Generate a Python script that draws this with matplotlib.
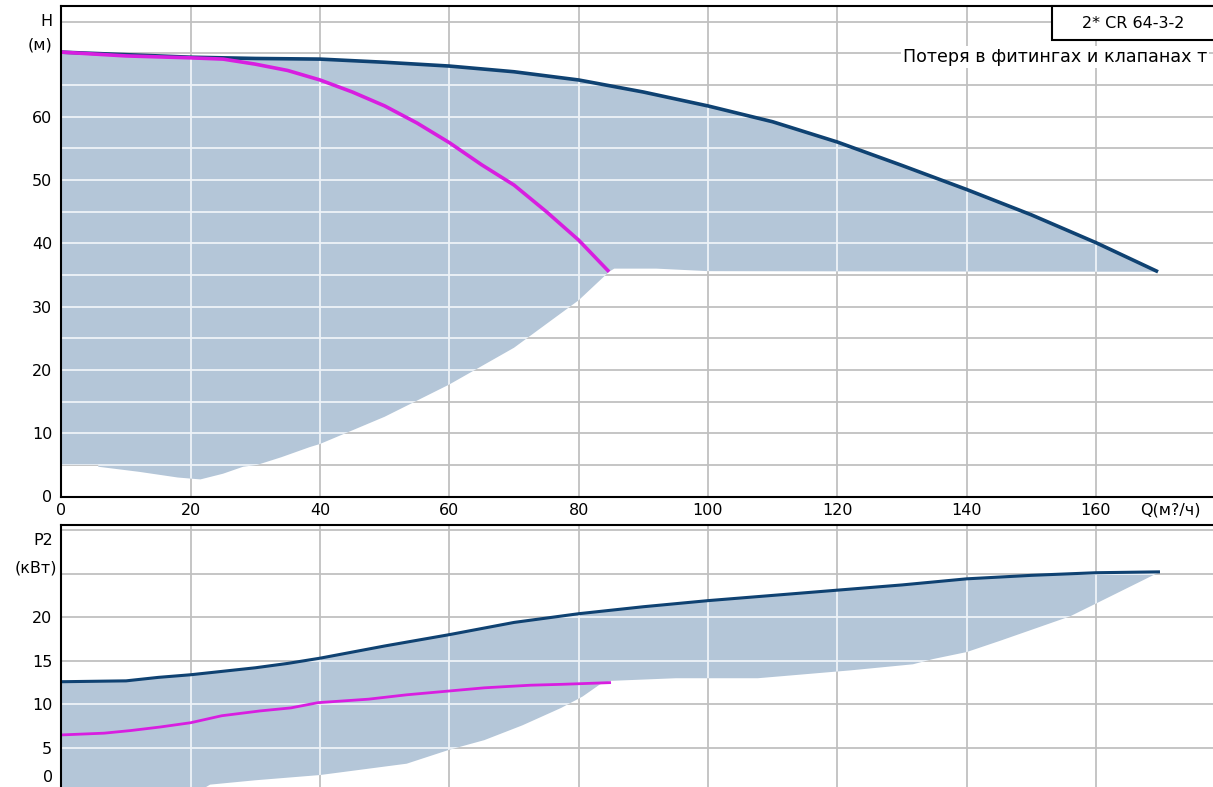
import matplotlib
matplotlib.use("Agg")
import matplotlib.pyplot as plt
from matplotlib.collections import LineCollection
from matplotlib.patches import Rectangle
import matplotlib.transforms as mtransforms

plt.rcParams['font.family'] = ['DejaVu Sans']

# ---------------- data ----------------
# Head curve, two pumps (dark blue)
q_h_two = [0, 10, 20, 30, 40, 50, 60, 70, 80, 90, 100, 110, 120, 130, 140, 150, 160, 169.6]
h_two = [70.2, 69.8, 69.4, 69.2, 69.1, 68.6, 68.0, 67.1, 65.8, 63.9, 61.7, 59.2, 56.0, 52.3, 48.5, 44.5, 40.1, 35.5]
# Head curve, one pump (magenta)
q_h_one = [0, 10, 20, 25, 30, 35, 40, 45, 50, 55, 60, 65, 70, 75, 80, 84.7]
h_one = [70.2, 69.6, 69.3, 69.1, 68.3, 67.3, 65.8, 63.9, 61.7, 59.0, 55.9, 52.4, 49.2, 45.0, 40.5, 35.5]
# Lower limit of the operating area (head)
q_h_low = [0, 5.7, 5.7, 12, 18, 21.5, 25, 28.1, 30.3, 34, 38.4, 40, 50, 60, 70, 80, 84.7, 85.5, 92, 100, 169.6]
h_low = [5.0, 5.0, 4.7, 3.9, 3.0, 2.7, 3.6, 4.7, 5.0, 6.2, 7.8, 8.3, 12.6, 17.7, 23.5, 31.0, 35.5, 36.0, 36.0, 35.6, 35.5]

# Power curve, two pumps (dark blue)
q_p_two = [0, 10, 15, 20, 25, 30, 35, 40, 50, 60, 70, 80, 90, 100, 110, 120, 130, 140, 150, 160, 169.9]
p_two = [12.6, 12.7, 13.1, 13.4, 13.8, 14.2, 14.7, 15.3, 16.7, 18.0, 19.4, 20.4, 21.2, 21.9, 22.5, 23.1, 23.7, 24.4, 24.8, 25.1, 25.2]
# Power curve, one pump (magenta)
q_p_one = [0, 6.6, 10.7, 15.2, 20, 24.8, 30.7, 35.5, 39.7, 47.5, 53.4, 59.4, 65.4, 72.5, 77.3, 85]
p_one = [6.5, 6.7, 7.0, 7.4, 7.9, 8.7, 9.25, 9.6, 10.2, 10.6, 11.1, 11.5, 11.9, 12.2, 12.3, 12.5]
# Lower limit of the operating area (power)
q_p_low = [0, 20, 23, 30, 40, 53.4, 60, 65.4, 71.3, 77.3, 80.6, 83.3, 85, 95, 107.7, 122, 131.7, 134.8, 140, 145.2, 156, 160.1, 169.9]
p_low = [-3.0, -0.5, 0.8, 1.3, 1.9, 3.2, 4.8, 5.9, 7.6, 9.6, 10.9, 12.3, 12.7, 13.0, 13.0, 13.9, 14.6, 15.2, 16.0, 17.3, 20.1, 21.6, 25.2]

q_ticks = [0, 20, 40, 60, 80, 100, 120, 140, 160]
h_ticks = [0, 10, 20, 30, 40, 50, 60]
p_ticks = [5, 10, 15, 20]

title_text = "2* CR 64-3-2"
note_text = "Потеря в фитингах и клапанах т"
q_label = "Q(м?/ч)"

# ---------------- styling ----------------
FILL = '#b4c6d8'
BLUE = '#0f4272'
MAG = '#d81ee0'
GRID = '#c0c0c0'
FS = 11.5

W, H = 1213, 787
fig = plt.figure(figsize=(W / 100, H / 100), dpi=100)

def fx(px):
    return px / W

def fy(py):
    return 1 - py / H

x0 = 61.4
xmax = (W - x0) / 6.466

ax1 = fig.add_axes([fx(x0), fy(496.5), 1 - fx(x0), fy(6) - fy(496.5)])
ax2 = fig.add_axes([fx(x0), 0, 1 - fx(x0), fy(525)])

ax1.set_xlim(0, xmax)
ax1.set_ylim(0, (496.5 - 6) / 6.33)
ax2.set_xlim(0, xmax)
ax2.set_ylim((791.6 - 787) / 8.72, (791.6 - 525) / 8.72)


def decorate(ax, hgrid):
    ax.spines['right'].set_visible(False)
    for s in ['left', 'top', 'bottom']:
        ax.spines[s].set_linewidth(1.5)
        ax.spines[s].set_color('black')
        ax.spines[s].set_zorder(6)
    vgrid = q_ticks[1:] + [180]
    xl = ax.get_xlim()
    yl = ax.get_ylim()
    segs = [[(x, yl[0]), (x, yl[1])] for x in vgrid] + [[(xl[0], y), (xl[1], y)] for y in hgrid]
    lc = LineCollection(segs, colors=GRID, linewidths=1.3, zorder=0.5)
    ax.add_collection(lc)
    return segs


def fill_area(ax, qu, hu, ql, hl, segs):
    xs = list(qu) + list(ql)[::-1]
    ys = list(hu) + list(hl)[::-1]
    poly = ax.fill(xs, ys, color=FILL, lw=0, zorder=1)[0]
    lcw = LineCollection(segs, colors='#eef3f8', linewidths=1.3, zorder=1.5)
    ax.add_collection(lcw)
    lcw.set_clip_path(poly)


# ---- top panel ----
segs1 = decorate(ax1, list(range(5, 80, 5)))
fill_area(ax1, q_h_two, h_two, q_h_low, h_low, segs1)
ax1.plot(q_h_two, h_two, color=BLUE, lw=2.6, zorder=3, solid_capstyle='butt')
ax1.plot(q_h_one, h_one, color=MAG, lw=2.6, zorder=3.5, solid_capstyle='butt')

ax1.set_xticks(q_ticks)
ax1.set_xticklabels([str(v) for v in q_ticks])
ax1.set_yticks(h_ticks)
ax1.set_yticklabels([str(v) for v in h_ticks])
ax1.tick_params(axis='both', length=0, labelsize=FS)
ax1.tick_params(axis='x', pad=5)
ax1.tick_params(axis='y', pad=6.5)

trans_y1 = mtransforms.blended_transform_factory(ax1.transAxes, ax1.transData)
ax1.text(-0.0075, 75.1, "H", transform=trans_y1, ha='right', va='center', fontsize=FS)
ax1.text(-0.0075, 71.3, "(м)", transform=trans_y1, ha='right', va='center', fontsize=FS)

trans_x1 = mtransforms.blended_transform_factory(ax1.transData, ax1.transAxes)
ax1.text((1170 - x0) / 6.466, -0.0275, q_label, transform=trans_x1, ha='center', va='center',
         fontsize=FS, clip_on=False)

# title box and note
rect = Rectangle((fx(1052), fy(40)), 0.3, fy(6) - fy(40), transform=fig.transFigure,
                 facecolor='white', edgecolor='black', lw=1.5, zorder=10, clip_on=False)
fig.patches.append(rect)
fig.text(fx(1133), fy(23), title_text, ha='center', va='center', fontsize=FS, zorder=11)
fig.text(fx(903), fy(57), note_text, ha='left', va='center', fontsize=12.6, zorder=11,
         bbox=dict(facecolor='white', edgecolor='none', pad=1.5))

# ---- bottom panel ----
segs2 = decorate(ax2, list(range(5, 35, 5)))
ax2.spines['bottom'].set_visible(False)
fill_area(ax2, q_p_two, p_two, q_p_low, p_low, segs2)
ax2.plot(q_p_two, p_two, color=BLUE, lw=2.2, zorder=3, solid_capstyle='butt')
ax2.plot(q_p_one, p_one, color=MAG, lw=2.0, zorder=3.5, solid_capstyle='butt')

ax2.set_xticks(q_ticks)
ax2.set_xticklabels([])
ax2.set_yticks(p_ticks)
ax2.set_yticklabels([str(v) for v in p_ticks])
ax2.tick_params(axis='both', length=0, labelsize=FS)
ax2.tick_params(axis='y', pad=6.5)

trans_y2 = mtransforms.blended_transform_factory(ax2.transAxes, ax2.transData)
ax2.text(-0.0075, 28.85, "P2", transform=trans_y2, ha='right', va='center', fontsize=FS)
ax2.text(-0.004, 25.6, "(кВт)", transform=trans_y2, ha='right', va='center', fontsize=FS)
ax2.text(-0.0075, 1.67, "0", transform=trans_y2, ha='right', va='center', fontsize=FS)

fig.savefig("out.png", dpi=100)
